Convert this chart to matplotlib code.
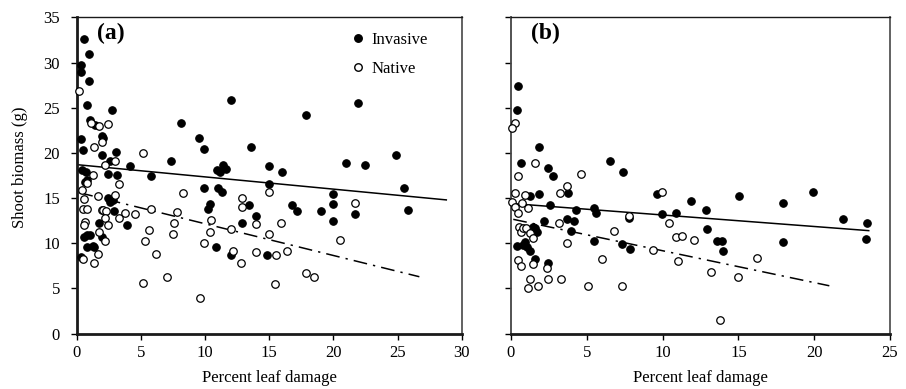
import matplotlib
matplotlib.use("Agg")
import matplotlib.pyplot as plt
from matplotlib.lines import Line2D

plt.rcParams['font.family'] = ['Liberation Serif', 'DejaVu Serif']

# ---------------- data: panel (a) ----------------
a_inv_x = [0.57, 0.96, 0.3, 0.35, 0.96, 0.83, 2.73, 12.0, 8.1, 1.0, 1.43, 9.5, 9.95, 13.6,
           0.36, 2.0, 2.05, 0.45, 2.0, 3.06, 2.6, 4.15, 7.35, 0.41, 0.7, 0.78, 0.67, 2.4,
           3.1, 5.8, 9.95, 10.9, 11.4, 11.6, 11.2, 11.0, 11.3, 13.45, 14.0, 12.9, 12.0,
           10.4, 10.25, 10.85, 3.9, 2.9, 2.46, 2.6, 2.8, 1.76, 2.0, 0.78, 1.04, 0.6, 0.78,
           1.25, 1.35, 0.34, 21.95, 17.9, 15.0, 16.0, 21.0, 22.5, 24.9, 25.5, 25.8, 15.0,
           20.0, 20.0, 20.0, 21.7, 16.8, 17.2, 19.0, 14.8]
a_inv_y = [32.6, 30.9, 29.7, 29.0, 28.0, 25.3, 24.8, 25.85, 23.3, 23.6, 23.1, 21.7, 20.4, 20.7,
           21.5, 21.9, 21.6, 20.3, 19.8, 20.1, 19.1, 18.6, 19.1, 18.1, 17.9, 17.0, 16.8, 17.7,
           17.6, 17.4, 16.1, 18.1, 18.7, 18.2, 17.9, 16.1, 15.7, 14.2, 13.05, 12.2, 8.7,
           14.4, 13.75, 9.6, 12.0, 13.6, 15.0, 14.6, 14.8, 12.3, 10.7, 10.9, 10.9, 10.7, 9.6,
           9.7, 9.55, 8.5, 25.5, 24.2, 18.55, 17.9, 18.9, 18.7, 19.8, 16.1, 13.7, 16.55,
           15.4, 14.35, 12.5, 13.2, 14.2, 13.6, 13.6, 8.7]

a_nat_x = [0.2, 1.1, 1.7, 2.47, 2.0, 1.37, 2.2, 3.0, 5.2, 1.3, 3.3, 8.3, 12.9, 12.9, 14.0,
           12.0, 12.2, 12.8, 14.0, 10.5, 10.4, 9.95, 7.8, 7.6, 7.5, 5.8, 5.6, 5.3, 6.15, 5.2,
           7.0, 9.6, 4.55, 3.76, 3.3, 3.0, 1.64, 1.95, 2.07, 2.26, 2.2, 2.4, 1.76, 2.2, 1.64,
           1.37, 0.47, 0.41, 0.57, 0.52, 0.78, 0.67, 0.57, 0.78, 15.0, 21.7, 15.9, 15.0, 20.5,
           15.5, 16.4, 17.9, 18.5, 15.45]
a_nat_y = [26.9, 23.3, 23.0, 23.2, 21.2, 20.6, 18.7, 19.1, 19.95, 17.6, 16.6, 15.6, 15.0, 14.05,
           12.1, 11.55, 9.2, 7.85, 9.0, 12.6, 11.2, 10.0, 13.5, 12.2, 11.0, 13.75, 11.5, 10.2,
           8.8, 5.65, 6.3, 3.9, 13.2, 13.4, 12.8, 15.3, 15.2, 13.7, 13.7, 13.6, 12.8, 12.0, 11.3,
           10.2, 8.8, 7.85, 8.3, 15.9, 14.9, 13.8, 16.7, 12.4, 12.0, 13.8, 15.7, 14.5, 12.2,
           11.0, 10.4, 8.7, 9.2, 6.7, 6.3, 5.5]

a_fit_inv_x = [0.0, 28.8]
a_fit_inv_y = [18.7, 14.8]
a_fit_nat_x = [0.2, 26.7]
a_fit_nat_y = [15.6, 6.3]

# ---------------- data: panel (b) ----------------
b_inv_x = [0.44, 0.37, 1.87, 0.66, 2.46, 2.75, 6.5, 7.4, 1.25, 1.87, 3.78, 2.57, 4.27, 5.5,
           5.6, 3.67, 4.18, 2.18, 3.94, 1.47, 1.7, 1.58, 5.5, 7.3, 0.37, 0.92, 0.77, 1.04,
           1.25, 1.58, 2.46, 7.8, 7.85, 9.6, 11.9, 12.84, 15.06, 17.96, 19.9, 21.9, 23.5,
           23.4, 17.96, 9.94, 10.9, 12.95, 13.6, 13.9, 13.97]
b_inv_y = [27.4, 24.7, 20.6, 18.9, 18.3, 17.4, 19.1, 17.9, 15.2, 15.4, 15.6, 14.2, 13.7, 13.9,
           13.4, 12.7, 12.5, 12.5, 11.4, 11.8, 11.2, 11.7, 10.2, 9.9, 9.7, 10.1, 9.8, 9.6,
           9.15, 8.3, 7.85, 12.75, 9.35, 15.5, 14.7, 13.7, 15.2, 14.5, 15.7, 12.7, 12.3,
           10.5, 10.15, 13.2, 13.4, 11.55, 10.2, 10.2, 9.15]

b_nat_x = [0.26, 0.05, 1.58, 0.48, 4.6, 0.26, 0.92, 3.23, 3.67, 0.1, 0.26, 0.75, 1.14, 0.48,
           3.17, 0.55, 0.64, 0.81, 0.99, 1.25, 1.47, 3.67, 6.8, 5.98, 0.44, 0.66, 1.47, 2.35,
           1.25, 1.14, 1.76, 2.46, 3.28, 5.1, 7.3, 7.8, 9.94, 10.4, 10.9, 11.3, 12.1, 9.4,
           11.05, 13.2, 14.95, 16.2, 13.8]
b_nat_y = [23.3, 22.8, 18.9, 17.4, 17.7, 15.6, 15.3, 15.6, 16.3, 14.6, 14.05, 14.5, 13.9, 13.3,
           12.2, 11.8, 11.3, 11.7, 11.7, 11.1, 10.55, 10.0, 11.4, 8.3, 8.15, 7.5, 7.7, 7.3,
           6.1, 5.1, 5.3, 6.0, 6.1, 5.3, 5.3, 13.05, 15.7, 12.2, 10.7, 10.8, 10.4, 9.3,
           8.0, 6.8, 6.3, 8.35, 1.5]

b_fit_inv_x = [0.05, 23.6]
b_fit_inv_y = [14.4, 11.4]
b_fit_nat_x = [0.15, 21.0]
b_fit_nat_y = [12.65, 5.3]

y_ticks = [0, 5, 10, 15, 20, 25, 30, 35]
a_x_ticks = [0, 5, 10, 15, 20, 25, 30]
b_x_ticks = [0, 5, 10, 15, 20, 25]

# ---------------- figure ----------------
fig = plt.figure(figsize=(9.06, 3.89), dpi=100)
ax_a = fig.add_axes([0.0847, 0.1422, 0.4249, 0.8133])
ax_b = fig.add_axes([0.5640, 0.1422, 0.4183, 0.8133])

dash_dot = (0, (9, 4, 1.5, 4))
ms = 5.4
FS = 12

def style(ax, xticks, xmax, ylabels):
    ax.set_xlim(0, xmax)
    ax.set_ylim(0, 35)
    ax.set_xticks(xticks)
    ax.set_yticks(y_ticks)
    ax.tick_params(axis='both', direction='out', length=4, width=1, labelsize=FS,
                   colors='black')
    ax.tick_params(axis='x', pad=4)
    ax.tick_params(axis='y', pad=8)
    if not ylabels:
        ax.set_yticklabels([])
    ax.spines['bottom'].set_linewidth(2.0)
    ax.spines['bottom'].set_color('#1a1a1a')
    ax.spines['top'].set_linewidth(1.0)
    ax.spines['top'].set_color('#1a1a1a')
    ax.spines['right'].set_linewidth(1.3)
    ax.spines['right'].set_color('#555555')
    ax.spines['left'].set_linewidth(2.0 if ylabels else 1.3)
    ax.spines['left'].set_color('#1a1a1a' if ylabels else '#444444')

for ax, ix, iy, nx, ny, fix, fiy, fnx, fny in [
        (ax_a, a_inv_x, a_inv_y, a_nat_x, a_nat_y, a_fit_inv_x, a_fit_inv_y, a_fit_nat_x, a_fit_nat_y),
        (ax_b, b_inv_x, b_inv_y, b_nat_x, b_nat_y, b_fit_inv_x, b_fit_inv_y, b_fit_nat_x, b_fit_nat_y)]:
    ax.plot(ix, iy, 'o', ms=ms, mfc='black', mec='black', mew=0.8, ls='none', zorder=3,
            clip_on=False)
    ax.plot(nx, ny, 'o', ms=ms, mfc='white', mec='black', mew=0.9, ls='none', zorder=3,
            clip_on=False)
    ax.plot(fix, fiy, color='black', lw=1.1, zorder=2)
    ax.plot(fnx, fny, color='black', lw=1.1, ls=dash_dot, zorder=2)

style(ax_a, a_x_ticks, 30, True)
style(ax_b, b_x_ticks, 25, False)

fig.text(269 / 906, 0.028, 'Percent leaf damage', fontsize=FS, ha='center', va='center')
fig.text(700.5 / 906, 0.028, 'Percent leaf damage', fontsize=FS, ha='center', va='center')
fig.text(20 / 906, 0.571, 'Shoot biomass (g)', fontsize=FS, ha='center', va='center',
         rotation=90)

ax_a.text(0.052, 0.982, '(a)', transform=ax_a.transAxes, fontsize=17, fontweight='bold',
          va='top', ha='left')
ax_b.text(0.052, 0.982, '(b)', transform=ax_b.transAxes, fontsize=17, fontweight='bold',
          va='top', ha='left')

handles = [Line2D([], [], marker='o', ls='none', ms=ms, mfc='black', mec='black'),
           Line2D([], [], marker='o', ls='none', ms=ms, mfc='white', mec='black')]
ax_a.legend(handles, ['Invasive', 'Native'], loc='upper left', bbox_to_anchor=(0.675, 0.99),
            frameon=False, fontsize=FS, handletextpad=0.2, labelspacing=0.75,
            borderpad=0.2, handlelength=1.2)

fig.savefig('out.png', dpi=100)
